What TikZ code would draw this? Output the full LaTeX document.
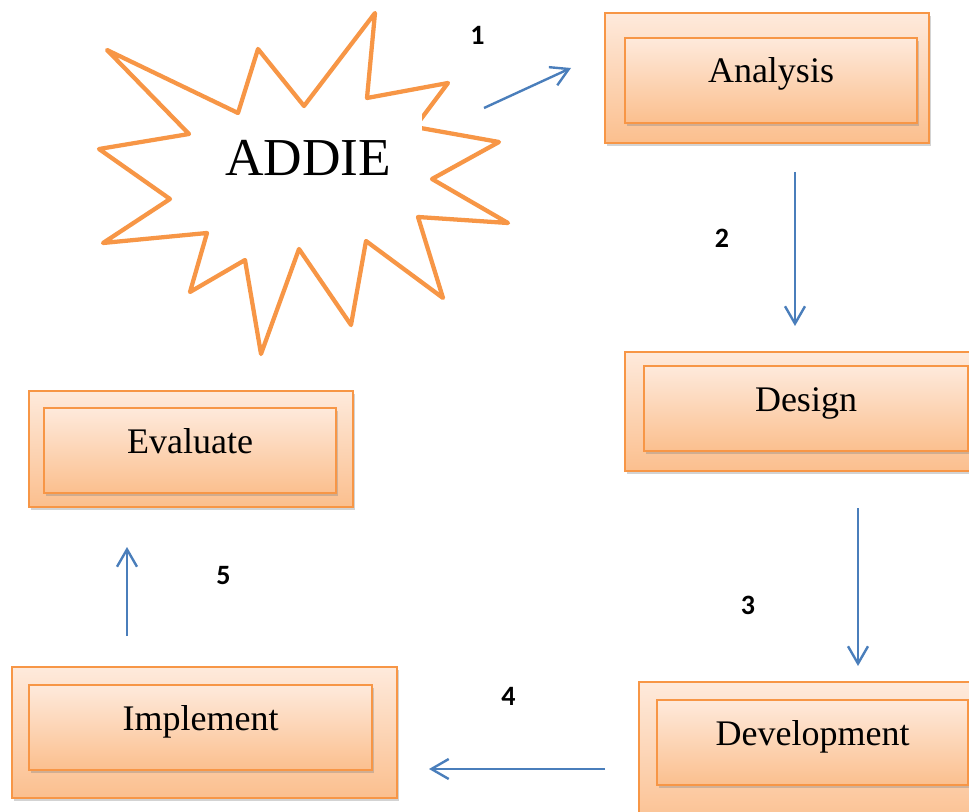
\documentclass[tikz,border=0pt]{standalone}
\usepackage{fontspec}
\setmainfont{Liberation Serif}
\newfontfamily\numfont{Carlito}
\usepackage{tikz}
\usetikzlibrary{arrows.meta}
\usetikzlibrary{shadows}

\definecolor{accent}{HTML}{F79646}
\definecolor{flowblue}{HTML}{4A7EBB}
\definecolor{boxtop}{HTML}{FEEADC}
\definecolor{boxbottom}{HTML}{FBBF8E}

\begin{document}
\begin{tikzpicture}[x=0.75pt,y=-0.75pt,
    flow/.style={draw=flowblue,line width=1.8pt,-{Straight Barb[length=13pt,width=15pt]}},
    box shadow/.style={drop shadow={opacity=0.35,shadow xshift=1.5pt,shadow yshift=-2.5pt}},
    outer box/.style={draw=accent,line width=1.1pt,top color=boxtop,bottom color=boxbottom,
                      inner sep=0pt,box shadow},
    inner box/.style={outer box,anchor=base,text height=33.75pt,text depth=30pt,
                      font=\fontsize{27}{27}\selectfont},
    step number/.style={font=\numfont\bfseries\fontsize{21}{21}\selectfont}]
    \path[use as bounding box] (0,0) rectangle (969,812);
    \clip (0,0) rectangle (969,812);

    % star
    \draw[accent,line width=3.2pt,line join=round,fill=white]
        (107,50) -- (238,113) -- (258,49) -- (304,106) -- (375,13) -- (367,98)
        -- (448,83) -- (415,127) -- (499,142) -- (432,179) -- (508,223) -- (418,217)
        -- (443,298) -- (366,241) -- (351,325) -- (299,249) -- (261,354) -- (245,260)
        -- (190,292) -- (207,233) -- (103,243) -- (170,199) -- (99,149) -- (189,134)
        -- cycle;
    \fill[white] (405,113) rectangle (421.5,131);
    \node[anchor=base,font=\fontsize{40}{40}\selectfont] (addie) at (308,176) {ADDIE};

    % outer boxes
    \node[outer box,minimum width=243pt,minimum height=97.5pt] (analysis box) at (767,78) {};
    \node[outer box,minimum width=271.5pt,minimum height=89.25pt] (design box) at (806,411.5) {};
    \node[outer box,minimum width=259.5pt,minimum height=111pt] (development box) at (812,756) {};
    \node[outer box,minimum width=288.75pt,minimum height=98.25pt] (implement box) at (204.5,732.5) {};
    \node[outer box,minimum width=243pt,minimum height=87pt] (evaluate box) at (191,449) {};

    % inner boxes
    \node[inner box,minimum width=219pt] (analysis) at (771,83) {Analysis};
    \node[inner box,minimum width=243pt] (design) at (806,411) {Design};
    \node[inner box,minimum width=233.25pt] (development) at (812.5,745) {Development};
    \node[inner box,minimum width=257.25pt] (implement) at (200.5,730) {Implement};
    \node[inner box,minimum width=219pt] (evaluate) at (190,453) {Evaluate};

    % arrows
    \coordinate (from1) at (484,108);  \coordinate (to1) at (571,68);
    \coordinate (from2) at (795,172);  \coordinate (to2) at (795,326);
    \coordinate (from3) at (858,508);  \coordinate (to3) at (858,666);
    \coordinate (from4) at (605,769);  \coordinate (to4) at (429,769);
    \coordinate (from5) at (127,636);  \coordinate (to5) at (127,547);
    \draw[flow] (from1) -- (to1);
    \draw[flow] (from2) -- (to2);
    \draw[flow] (from3) -- (to3);
    \draw[flow] (from4) -- (to4);
    \draw[flow] (from5) -- (to5);

    \node[step number] (n1) at (477.5,35) {1};
    \node[step number] (n2) at (722,238) {2};
    \node[step number] (n3) at (748,605) {3};
    \node[step number] (n4) at (508.5,696.5) {4};
    \node[step number] (n5) at (223.5,576) {5};
\end{tikzpicture}
\end{document}
